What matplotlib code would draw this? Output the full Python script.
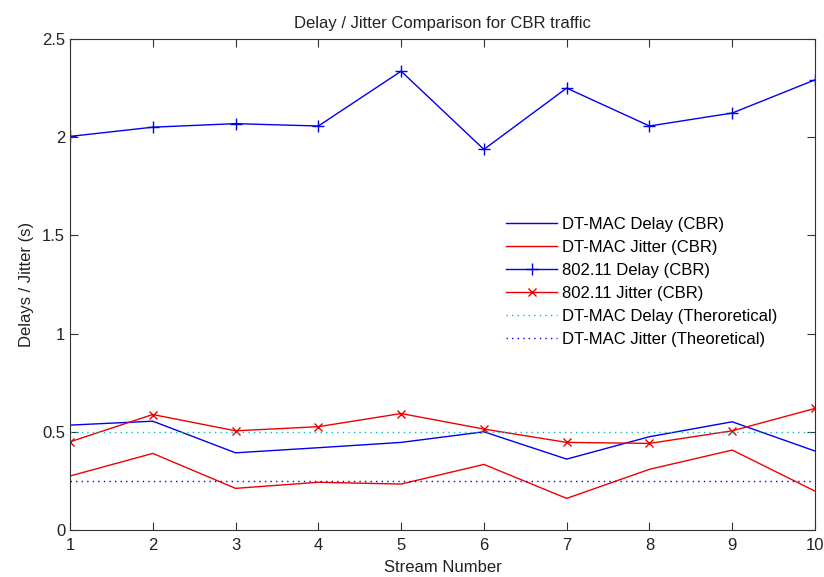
import matplotlib
matplotlib.use("Agg")
import matplotlib.pyplot as plt

plt.rcParams['font.family'] = ['Liberation Sans', 'DejaVu Sans']

# Stream numbers
streams = [1, 2, 3, 4, 5, 6, 7, 8, 9, 10]

# Measured values (s)
dtmac_delay = [0.534, 0.554, 0.393, 0.419, 0.446, 0.500, 0.361, 0.475, 0.551, 0.402]
dtmac_jitter = [0.275, 0.390, 0.212, 0.243, 0.234, 0.334, 0.161, 0.309, 0.407, 0.198]
wifi_delay = [2.004, 2.051, 2.069, 2.057, 2.336, 1.938, 2.250, 2.057, 2.123, 2.292]
wifi_jitter = [0.449, 0.588, 0.505, 0.526, 0.593, 0.514, 0.446, 0.441, 0.505, 0.619]

# Theoretical values (s)
theo_delay = 0.5
theo_jitter = 0.25

fig = plt.figure(figsize=(8.24, 5.77), dpi=100)
ax = fig.add_axes([70 / 824, 47 / 577, 745 / 824, 491 / 577])

ax.plot(streams, dtmac_delay, color='#0000ee', lw=1, label='DT-MAC Delay (CBR)')
ax.plot(streams, dtmac_jitter, color='#ee0000', lw=1, label='DT-MAC Jitter (CBR)')
ax.plot(streams, wifi_delay, color='#0000ee', lw=1, marker='+', ms=8, mew=1,
        label='802.11 Delay (CBR)')
ax.plot(streams, wifi_jitter, color='#ee0000', lw=1, marker='x', ms=6, mew=1,
        label='802.11 Jitter (CBR)')
ax.plot(streams, [theo_delay] * len(streams), color='#00bfbf', lw=1, ls=(0, (1, 3)),
        label='DT-MAC Delay (Theroretical)')
ax.plot(streams, [theo_jitter] * len(streams), color='#0000ee', lw=1, ls=(0, (1, 3)),
        label='DT-MAC Jitter (Theoretical)')

ax.set_xlim(1, 10)
ax.set_ylim(0, 2.5)
ax.set_xticks(streams)
ax.set_yticks([0, 0.5, 1, 1.5, 2, 2.5])
ax.set_yticklabels(['0', '0.5', '1', '1.5', '2', '2.5'])
ax.tick_params(direction='in', top=True, right=True, length=6, labelsize=12,
               color='#333333', labelcolor='#222222')
ax.tick_params(axis='x', pad=6)
for s in ax.spines.values():
    s.set_color('#333333')

ax.set_title('Delay / Jitter Comparison for CBR traffic', fontsize=12, color='#222222', pad=8)
ax.set_xlabel('Stream Number', fontsize=12, color='#222222', labelpad=5)
ax.set_ylabel('Delays / Jitter (s)', fontsize=12, color='#222222', labelpad=6)

ax.legend(loc='upper left', bbox_to_anchor=(499 / 824, 1 - 210 / 577),
          bbox_transform=fig.transFigure, frameon=False, fontsize=12,
          handlelength=3.1, handletextpad=0.3, labelspacing=0.48, borderaxespad=0)

fig.savefig('out.png', dpi=100)
